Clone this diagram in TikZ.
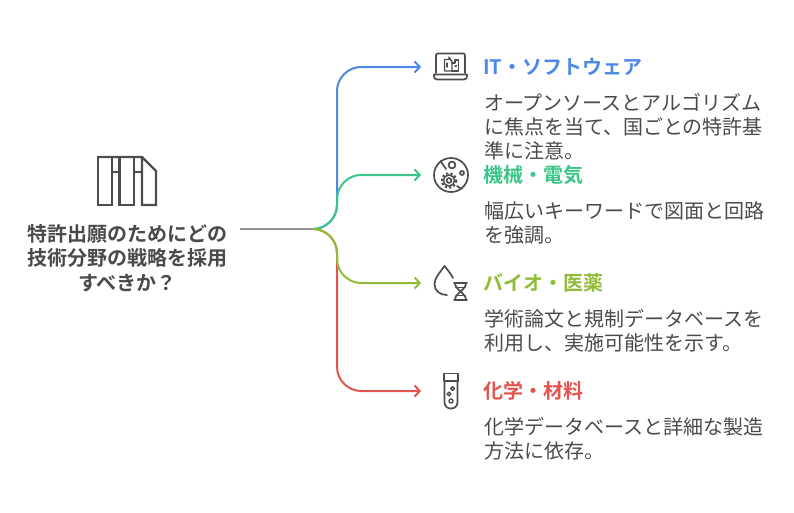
\documentclass[tikz,border=0pt]{standalone}
\usepackage{fontspec}
\usepackage{tikz}
\setmainfont{Noto Sans CJK JP}[BoldFont={Noto Sans CJK JP Bold}]
\usetikzlibrary{arrows.meta}

\definecolor{itblue}{HTML}{4E88E7}
\definecolor{mechgreen}{HTML}{38C587}
\definecolor{bioolive}{HTML}{90BC38}
\definecolor{chemred}{HTML}{E2544F}
\definecolor{txtgray}{HTML}{4A4A4A}
\definecolor{icongray}{HTML}{4D4D4D}
\definecolor{stemgray}{HTML}{949494}

\tikzset{
    branch/.style={line width=2pt},
    tip/.style={-{Straight Barb[length=5pt,width=11pt,line width=2pt]}},
    heading/.style={anchor=west, inner sep=0pt, font=\fontsize{20}{24}\selectfont\bfseries},
    detail/.style={anchor=north west, inner sep=0pt, align=left, text=txtgray, font=\fontsize{20}{24.2}\selectfont},
    icon/.style={draw=icongray, line width=1.7pt, line join=round, line cap=round}
}

\begin{document}
\begin{tikzpicture}[x=1pt,y=-1pt]

    \useasboundingbox (0,0) rectangle (794,512);

    \node[inner sep=0pt, align=center, text=txtgray, font=\fontsize{20}{24.5}\selectfont\bfseries] (question) at (127.5,258)
        {特許出願のためにどの\\技術分野の戦略を採用\\すべきか？};

    \coordinate (start) at (240,229);
    \coordinate (fork) at (313,229);

    % headings
    \node[heading, text=itblue] (it) at (483,67) {IT・ソフトウェア};
    \node[heading, text=mechgreen] (mech) at (483,175) {機械・電気};
    \node[heading, text=bioolive] (bio) at (483,283) {バイオ・医薬};
    \node[heading, text=chemred] (chem) at (483,391) {化学・材料};

    \node[detail] (ittext) at (483.8,93) {オープンソースとアルゴリズム\\に焦点を当て、国ごとの特許基\\準に注意。};
    \node[detail] (mechtext) at (483.8,201) {幅広いキーワードで図面と回路\\を強調。};
    \node[detail] (biotext) at (483.8,309) {学術論文と規制データベースを\\利用し、実施可能性を示す。};
    \node[detail] (chemtext) at (483.8,417) {化学データベースと詳細な製造\\方法に依存。};

    % arrow ends
    \coordinate (itend) at (421,67);
    \coordinate (mechend) at (421,175);
    \coordinate (bioend) at (421,283);
    \coordinate (chemend) at (421,391);

    \draw[branch, stemgray] (start) -- (fork);

    \draw[branch, tip, itblue] (fork) .. controls (326,229) and (337,218) .. (337,205)
        -- (337,91) .. controls (337,78) and (348,67) .. (361,67) -- (itend);
    \draw[branch, tip, chemred] (fork) .. controls (326,229) and (337,240) .. (337,253)
        -- (337,367) .. controls (337,380) and (348,391) .. (361,391) -- (chemend);
    \draw[branch, tip, mechgreen] (fork) .. controls (326,229) and (337,218) .. (337,205)
        -- (337,199) .. controls (337,186) and (348,175) .. (361,175) -- (mechend);
    \draw[branch, tip, bioolive] (fork) .. controls (326,229) and (337,240) .. (337,253)
        -- (337,259) .. controls (337,272) and (348,283) .. (361,283) -- (bioend);

    % big icon
    \begin{scope}[line width=2.2pt, draw=icongray]
        \draw (98,157) -- (142,157) -- (156,171) -- (156,205) -- (142,205) -- (142,157);
        \draw (98,157) rectangle (112,205);
        \draw (119.5,157) rectangle (134,205);
        \draw (112,172) -- (119.5,172);
        \draw (134,172) -- (142,172);
    \end{scope}

    % laptop
    \draw[icon] (436,73) -- (436,55.5) .. controls (436,54) and (437,53.5) .. (438,53.5)
        -- (463,53.5) .. controls (464,53.5) and (465,54) .. (465,55.5) -- (465,73);
    \draw[icon] (434,74.5) -- (467,74.5) -- (467,76) .. controls (467,78) and (466,79.5) .. (464,79.5)
        -- (437,79.5) .. controls (435,79.5) and (434,78) .. (434,76) -- cycle;
    \draw[icon, line width=1.4pt] (444.5,71) -- (444.5,59.5) -- (449,59.5) -- (449,57) -- (452,62) -- (452,71) -- cycle;
    \draw[icon, line width=1.4pt] (452,71) -- (458.5,71) -- (458.5,60) -- (455,60) -- (455,63) -- (452,63);
    \draw[icon, line width=1.2pt] (447,63) -- (447,67) (455,66) -- (456.5,66);

    % circle with gear
    \draw[icon] (451,175) circle (17);
    \draw[icon] (440.5,161) -- (446,169);
    \draw[icon] (452,165) circle (3.4);
    \draw[icon] (462,173) circle (2);
    \draw[icon] (449,180.5) circle (2.4);
    \draw[icon, line width=1.5pt] (449,180.5) circle (5.6);
    \draw[icon, line cap=butt, line width=2pt, dash pattern=on 2.2pt off 2.2pt] (449,180.5) circle (7.2);
    \draw[icon] (457,186) -- (461,188.5);

    % drop and dna
    \draw[icon] (444.5,266) .. controls (441,271) and (434.5,278) .. (434.5,284)
        .. controls (434.5,291) and (440,295) .. (447,295);
    \draw[icon] (444.5,266) .. controls (447,269) and (451,274) .. (453,278);
    \draw[icon] (454,283) -- (467,283) (454,300) -- (467,300);
    \draw[icon] (455,283) .. controls (455,290) and (466,293) .. (466,300);
    \draw[icon] (466,283) .. controls (466,290) and (455,293) .. (455,300);
    \draw[icon] (456,287.5) -- (465,287.5) (456,295.5) -- (465,295.5);

    % test tube
    \draw[icon] (444,373.5) -- (458,373.5) -- (458,381) -- (444,381) -- cycle;
    \draw[icon] (444.5,381) -- (444.5,402) .. controls (444.5,406.5) and (447.5,408.5) .. (451,408.5)
        .. controls (454.5,408.5) and (457.5,406.5) .. (457.5,402) -- (457.5,381);
    \draw[icon, line width=1.4pt] (452.5,388.5) circle (1.8);
    \draw[icon, line width=1.4pt] (449,394) circle (1.8);
    \draw[icon, line width=1.4pt] (451,401) circle (2);

\end{tikzpicture}
\end{document}
